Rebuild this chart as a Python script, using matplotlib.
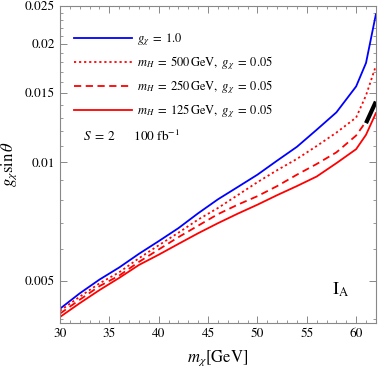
import numpy as np
import matplotlib
matplotlib.use("Agg")
import matplotlib.pyplot as plt
from matplotlib.ticker import FixedLocator, FixedFormatter

plt.rcParams['font.family'] = 'STIXGeneral'
plt.rcParams['mathtext.fontset'] = 'stix'

# masses (GeV)
m_chi = [30, 32, 34, 36, 38, 40, 42, 44, 46, 48, 50, 52, 54, 56, 58, 60, 61, 62]

# g_X sin(theta) sensitivity curves
g_blue = [0.00424, 0.00464, 0.00503, 0.00540, 0.00585, 0.00630, 0.00680, 0.00742,
          0.00805, 0.00865, 0.00930, 0.01010, 0.01095, 0.01210, 0.01340, 0.01560,
          0.01790, 0.02380]
g_500 = [0.00419, 0.00455, 0.00492, 0.00525, 0.00570, 0.00615, 0.00662, 0.00715,
         0.00765, 0.00825, 0.00890, 0.00955, 0.01020, 0.01100, 0.01190, 0.01300,
         0.01480, 0.01760]
g_250 = [0.00412, 0.00447, 0.00484, 0.00515, 0.00558, 0.00600, 0.00645, 0.00690,
         0.00738, 0.00780, 0.00820, 0.00870, 0.00930, 0.00990, 0.01060, 0.01170,
         0.01270, 0.01420]
g_125 = [0.00404, 0.00438, 0.00473, 0.00508, 0.00548, 0.00582, 0.00620, 0.00660,
         0.00700, 0.00740, 0.00780, 0.00825, 0.00870, 0.00920, 0.00995, 0.01080,
         0.01175, 0.01334]

# black segment near the endpoint
m_black = [61, 62]
g_black = [0.01258, 0.01427]

y_major = [0.005, 0.01, 0.015, 0.02, 0.025]
y_major_labels = ['0.005', '0.01', '0.015', '0.02', '0.025']
x_major = [30, 35, 40, 45, 50, 55, 60]

fig = plt.figure(figsize=(3.82, 3.70), dpi=100)
ax = fig.add_axes([0.157, 0.127, 0.827, 0.857])

ax.plot(m_chi, g_blue, color='#0000ff', lw=1.3, label=r'$g_\chi\;=\;1.0$')
ax.plot(m_chi, g_500, color='#ff0000', lw=1.3, ls=(0, (1.2, 1.6)),
        label=r'$m_H\;=\;500\,\mathrm{GeV},\ g_\chi\;=\;0.05$')
ax.plot(m_chi, g_250, color='#ff0000', lw=1.3, ls=(0, (4, 2.5)),
        label=r'$m_H\;=\;250\,\mathrm{GeV},\ g_\chi\;=\;0.05$')
ax.plot(m_chi, g_125, color='#ff0000', lw=1.3,
        label=r'$m_H\;=\;125\,\mathrm{GeV},\ g_\chi\;=\;0.05$')
ax.plot(m_black, g_black, color='black', lw=3, solid_capstyle='butt')

ax.set_yscale('log')
ax.set_xlim(30, 62)
ax.set_ylim(0.0039, 0.025)

ax.yaxis.set_major_locator(FixedLocator(y_major))
ax.yaxis.set_major_formatter(FixedFormatter(y_major_labels))
minor_y = [v / 1000 for v in range(4, 25) if v not in (5, 10, 15, 20)]
ax.yaxis.set_minor_locator(FixedLocator(minor_y))
ax.yaxis.set_minor_formatter(FixedFormatter([''] * len(minor_y)))
ax.xaxis.set_major_locator(FixedLocator(x_major))
ax.xaxis.set_minor_locator(FixedLocator(np.arange(30, 63, 1)))

ax.tick_params(which='both', direction='in', top=True, right=True,
               color='#888888', labelsize=9.5)
ax.tick_params(which='major', length=5, width=0.7)
ax.tick_params(which='minor', length=2.5, width=0.6)
for sp in ax.spines.values():
    sp.set_color('#888888')
    sp.set_linewidth(0.8)

ax.set_xlabel(r'$m_\chi$[GeV]', fontsize=12, labelpad=6)
ax.set_ylabel(r'$g_\chi\sin\theta$', fontsize=12, labelpad=4)

ax.legend(loc='upper left', bbox_to_anchor=(0.03, 0.935), frameon=False,
          fontsize=9, handlelength=4.6, handletextpad=0.4, labelspacing=0.5,
          borderaxespad=0)
ax.text(0.073, 0.587, r'$S\;=\;2\qquad 100\ \mathrm{fb}^{-1}$', transform=ax.transAxes,
        fontsize=9.5, va='center')
ax.text(0.86, 0.105, r'$\mathrm{I}_\mathrm{A}$', transform=ax.transAxes,
        fontsize=13, va='center')

fig.savefig('out.png', dpi=100)
